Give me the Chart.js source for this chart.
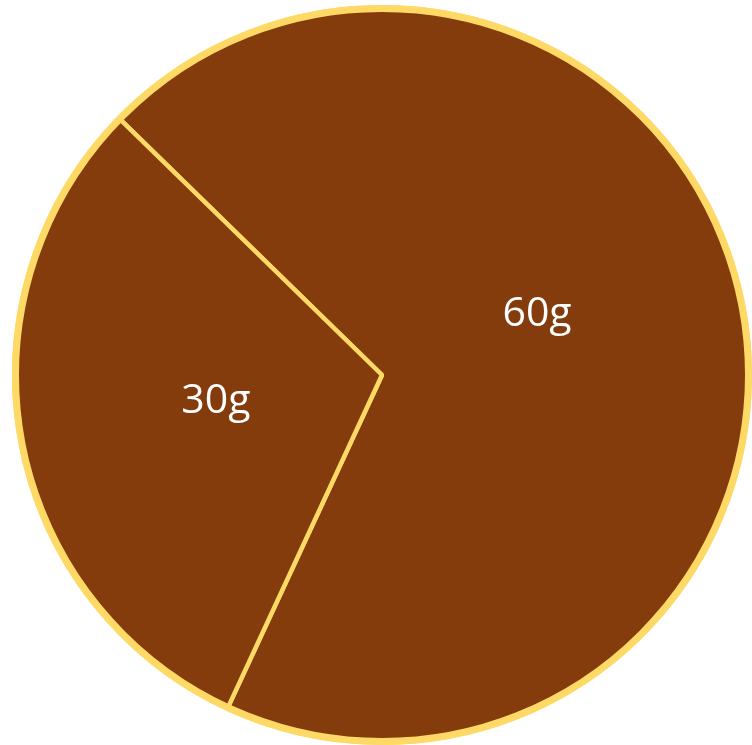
<!DOCTYPE html>
<html>
<head>
<meta charset="utf-8">
<script src="https://cdn.jsdelivr.net/npm/chart.js@4"></script>
<style>
  html, body { margin: 0; padding: 0; background: #ffffff; }
  #wrap { width: 752px; height: 745px; }
</style>
</head>
<body>
<div id="wrap"><canvas id="c" width="752" height="745"></canvas></div>
<script>
// Slice labels (text shown on the chart)
const sliceLabels = ["60g", "30g"];
// Slice shares (angles of the slices, as percent of the circle)
const sliceShares = [69.6, 30.4];

const BROWN = "#843C0C";
const GOLD = "#FFD966";

const sliceLabelPlugin = {
  id: "sliceLabels",
  afterDatasetsDraw(chart, args, opts) {
    const meta = chart.getDatasetMeta(0);
    const ctx = chart.ctx;
    const first = meta.data[0];
    ctx.save();
    // outer rim around the pie
    ctx.beginPath();
    ctx.arc(first.x, first.y, first.outerRadius - opts.ringInset, 0, Math.PI * 2);
    ctx.lineWidth = opts.ringWidth;
    ctx.strokeStyle = GOLD;
    ctx.stroke();
    // labels
    ctx.fillStyle = "#ffffff";
    ctx.font = opts.font;
    ctx.textAlign = "center";
    ctx.textBaseline = "alphabetic";
    meta.data.forEach((arc, i) => {
      const mid = (arc.startAngle + arc.endAngle) / 2 + opts.angleShift[i] * Math.PI / 180;
      const r = arc.outerRadius * opts.radiusFrac;
      const x = arc.x + Math.cos(mid) * r;
      const y = arc.y + Math.sin(mid) * r + opts.capHalf;
      ctx.fillText(chart.data.labels[i], x, y);
    });
    ctx.restore();
  }
};

new Chart(document.getElementById("c"), {
  type: "pie",
  data: {
    labels: sliceLabels,
    datasets: [{
      data: sliceShares,
      backgroundColor: [BROWN, BROWN],
      borderColor: GOLD,
      borderWidth: 4.5,
      hoverOffset: 0
    }]
  },
  options: {
    responsive: false,
    animation: false,
    rotation: -45.7,
    layout: { padding: { left: 12, right: 0, top: 5, bottom: 0 } },
    plugins: {
      legend: { display: false },
      tooltip: { enabled: false },
      sliceLabels: {
        ringInset: 1.25,
        ringWidth: 7,
        font: "41px 'Open Sans'",
        radiusFrac: 0.456,
        angleShift: [-12, 2.6],
        capHalf: 15
      }
    }
  },
  plugins: [sliceLabelPlugin]
});
</script>
</body>
</html>
